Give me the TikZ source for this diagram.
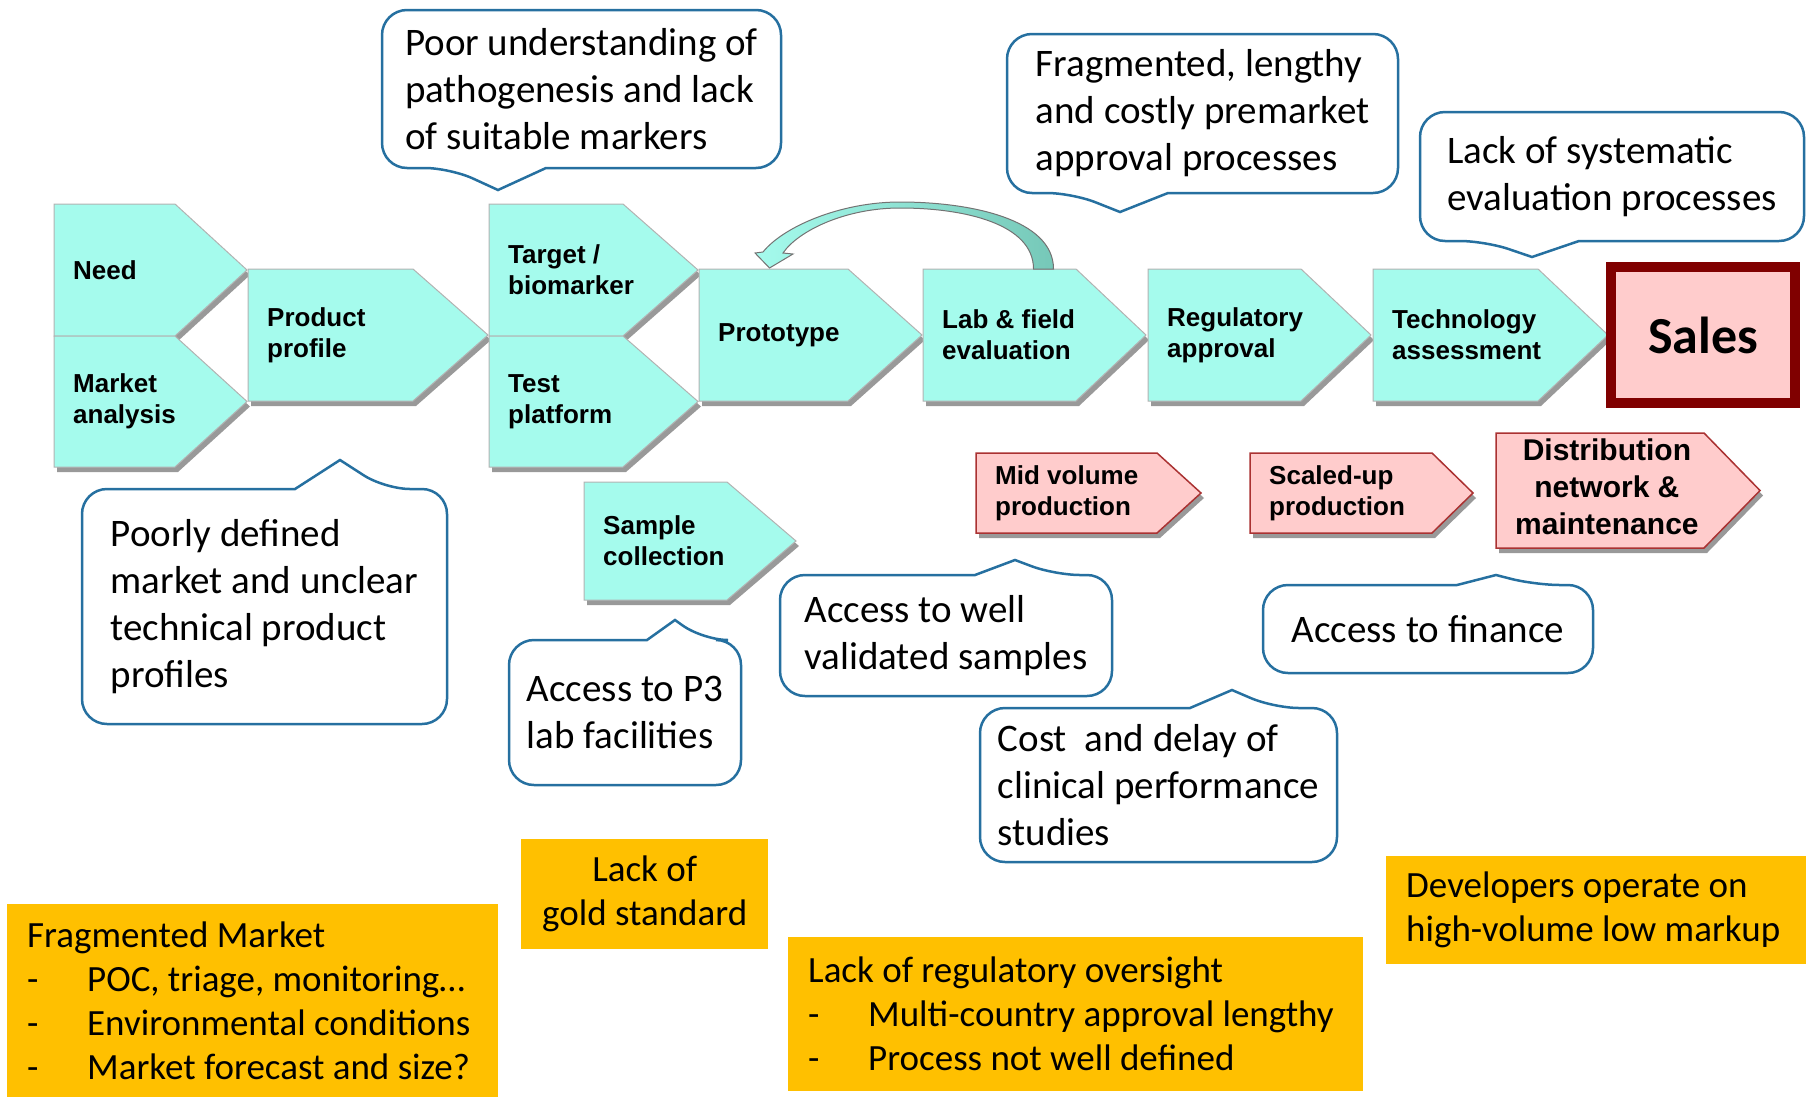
\documentclass[tikz,border=0pt]{standalone}
\usepackage{fontspec}
\setmainfont{Carlito}
\newfontfamily\arialfont{Liberation Sans}
\usetikzlibrary{calc,shadows}

\definecolor{stepcyan}{RGB}{165,251,237}
\definecolor{steppink}{RGB}{255,204,204}
\definecolor{stepred}{RGB}{170,50,50}
\definecolor{salesred}{RGB}{128,0,0}
\definecolor{callblue}{RGB}{38,112,160}
\definecolor{issueorange}{RGB}{255,192,0}
\definecolor{loopteal}{RGB}{118,200,184}

% #1 style, #2 name, #3 x, #4 top, #5 body width, #6 tip length, #7 height, #8 text
\newcommand\chevron[8][cyanstep]{%
  \path[#1] (#3,#4) -- ++(#5,0) -- ++(#6,#7/2) -- ++(-#6,#7/2) -- ++(-#5,0) -- cycle;
  \coordinate (#2-top) at ($(#3,#4)+(#5/2,0)$);
  \node[steplabel] (#2) at ($(#3,#4)+(19,#7/2)$) {#8};}

% bubbles: #1 name, #2 #3 #4 #5 box corners, #6 pointer x, #7 half base, #8 tip y, #9 text
\newcommand\callbelow[9]{%
  \draw[bubble] (#6-#7,#5) -- (#6,#8) -- (#6+#7,#5) [rounded corners=25pt]
    -- (#4,#5) -- (#4,#3) -- (#2,#3) -- (#2,#5) -- cycle;
  \node[calltext] (#1) at ({(#2+#4)/2},{(#3+#5)/2}) {#9};}
\newcommand\callabove[9]{%
  \draw[bubble] (#6+#7,#3) -- (#6,#8) -- (#6-#7,#3) [rounded corners=25pt]
    -- (#2,#3) -- (#2,#5) -- (#4,#5) -- (#4,#3) -- cycle;
  \node[calltext] (#1) at ({(#2+#4)/2},{(#3+#5)/2}) {#9};}

\newcommand\dashitem{\makebox[60pt][l]{-}}

\begin{document}
\begin{tikzpicture}[x=1pt, y=-1pt,
  cyanstep/.style={fill=stepcyan, draw=black!30, line width=1pt,
    drop shadow={shadow xshift=3pt, shadow yshift=-5pt, opacity=.4, fill=black}},
  pinkstep/.style={fill=steppink, draw=stepred, line width=1.5pt,
    drop shadow={shadow xshift=3pt, shadow yshift=-5pt, opacity=.4, fill=black}},
  steplabel/.style={anchor=west, inner sep=0pt, align=left,
    font=\arialfont\bfseries\fontsize{26}{31}\selectfont},
  salesbox/.style={draw=salesred, line width=10pt, fill=steppink,
    minimum width=184pt, minimum height=136pt,
    font=\bfseries\fontsize{52}{60}\selectfont,
    drop shadow={shadow xshift=3pt, shadow yshift=-5pt, opacity=.4, fill=black}},
  bubble/.style={draw=callblue, line width=2.5pt, fill=white},
  calltext/.style={align=left, inner sep=0pt, font=\fontsize{39}{47}\selectfont},
  issue/.style={fill=issueorange, anchor=north west, inner xsep=20pt,
    inner ysep=0pt, align=flush left, font=\fontsize{37}{44}\selectfont},
  loopline/.style={left color=stepcyan, right color=loopteal,
    draw=black!55, line width=1pt}
]
\useasboundingbox (0,0) rectangle (1814,1098);

% development steps
\chevron{need}{54}{204}{121}{72}{132}{Need}
\chevron{market}{54}{336}{121}{72}{131}{Market\\analysis}
\chevron{profile}{248}{269}{165}{75}{132}{Product\\profile}
\chevron{target}{489}{204}{134}{75}{132}{Target /\\biomarker}
\chevron{platform}{489}{336}{134}{75}{131}{Test\\platform}
\chevron{proto}{699}{269}{149}{74}{132}{Prototype}
\chevron{lab}{923}{269}{153}{70}{132}{Lab \& field\\evaluation}
\chevron{regul}{1148}{269}{153}{70}{132}{Regulatory\\approval}
\chevron{techno}{1373}{269}{165}{70}{132}{Technology\\assessment}
\chevron{sample}{584}{482}{143}{69}{118}{Sample\\collection}

% production and market steps
\chevron[pinkstep]{midvol}{976}{453}{181}{44}{80}{Mid volume\\production}
\chevron[pinkstep]{scaleup}{1250}{453}{182}{41}{80}{Scaled-up\\production}
\chevron[pinkstep]{distrib}{1496}{433}{208}{56}{115}{{\fontsize{30}{37}\selectfont
  \begin{tabular}{@{}c@{}}Distribution\\network \&\\maintenance\end{tabular}}}
\node[salesbox] (sales) at (1703,335) {Sales};

% feedback loop from evaluation back to the prototype
\shadedraw[loopline] ($(lab-top)+(54,0)$) .. controls +(0,-50) and +(70,0) .. (900,202)
  .. controls +(-60,0) and +(20,-25) .. (763,252) -- (755,253)
  -- ($(proto-top)+(-4,-1)$) -- (793,254) -- (783,253)
  .. controls +(15,-22) and +(-55,0) .. (900,208)
  .. controls +(65,0) and +(0,-45) .. ($(lab-top)+(34,0)$) -- cycle;

% bottlenecks
\callbelow{pathogen}{382}{10}{781}{168}{498}{48}{190}{Poor understanding of\\pathogenesis and lack\\of suitable markers}
\callbelow{premarket}{1007}{34}{1398}{193}{1120}{48}{212}{Fragmented, lengthy\\and costly premarket\\approval processes}
\callbelow{evaluation}{1420}{112}{1804}{241}{1532}{47}{257}{Lack of systematic\\evaluation processes}
\callabove{poorprofile}{82}{489}{447}{724}{340}{45}{460}{Poorly defined\\market and unclear\\technical product\\profiles}
\callabove{p3lab}{509}{640}{741}{785}{675}{28}{620}{Access to P3\\lab facilities}
\callabove{samples}{780}{575}{1112}{696}{1015}{40}{560}{Access to well\\validated samples}
\callabove{clinical}{980}{708}{1337}{862}{1232}{42}{690}{Cost\ \ and delay of\\clinical performance\\studies}
\callabove{finance}{1263}{585}{1593}{673}{1496}{39}{575}{Access to finance}

% market issues
\node[issue, minimum width=491pt, minimum height=193pt, text width=451pt] (fragmarket) at (7,904)
  {Fragmented Market\\\dashitem POC, triage, monitoring…\\\dashitem Environmental conditions\\\dashitem Market forecast and size?};
\node[issue, align=flush center, inner xsep=10pt, minimum width=247pt, minimum height=110pt, text width=227pt] (gold) at (521,839)
  {Lack of\\gold standard};
\node[issue, minimum width=575pt, minimum height=154pt, text width=535pt] (oversight) at (788,937)
  {Lack of regulatory oversight\\\dashitem Multi-country approval lengthy\\\dashitem Process not well defined};
\node[issue, minimum width=420pt, minimum height=108pt, text width=380pt] (markup) at (1386,856)
  {Developers operate on\\high-volume low markup};
\end{tikzpicture}
\end{document}
